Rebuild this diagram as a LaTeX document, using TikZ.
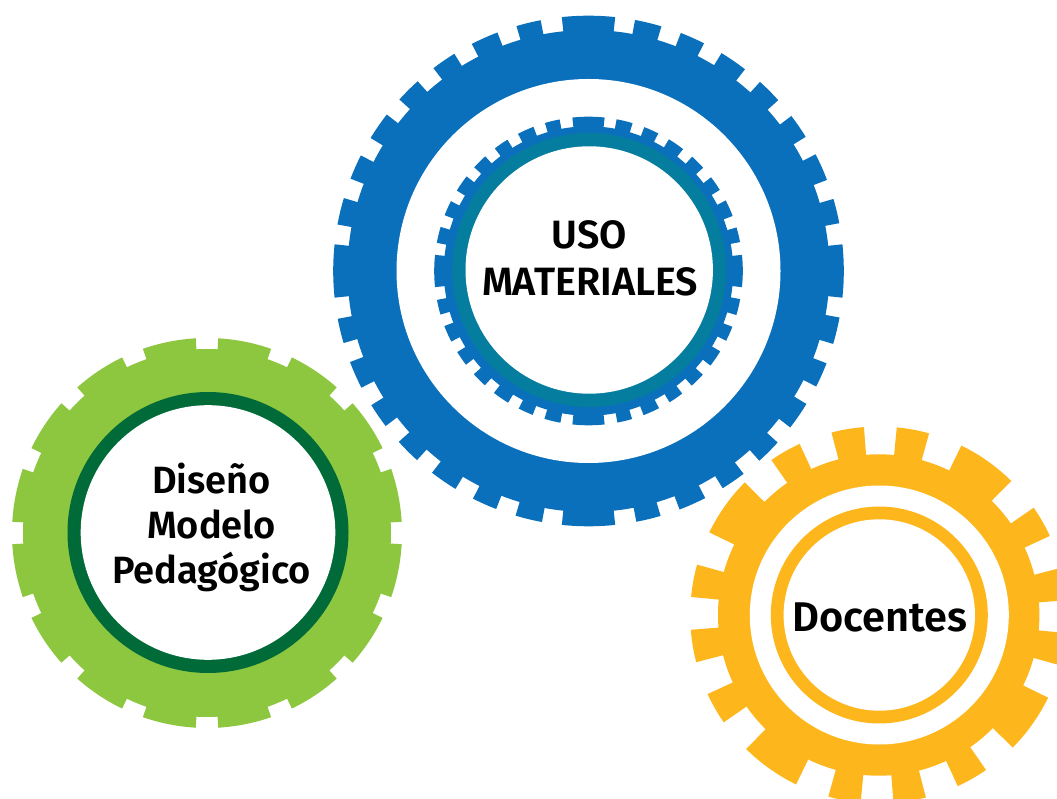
\documentclass[tikz,border=0pt]{standalone}
\usepackage{fontspec}
\setmainfont{Fira Sans SemiBold}
\definecolor{gearblue}{HTML}{0B70BC}
\definecolor{gearteal}{HTML}{057D9E}
\definecolor{geargreen}{HTML}{8DC63F}
\definecolor{geardark}{HTML}{006B38}
\definecolor{gearorange}{HTML}{FDB71C}
\tikzset{gearlabel/.style={anchor=base,inner sep=0pt,text=black}}
% #1 cx, #2 cy, #3 outer radius, #4 root radius, #5 colour, #6 rotations, #7 teeth a/b (degrees clockwise from the top)
\newcommand{\geartoothed}[7]{%
  \begin{scope}[shift={(#1pt,#2pt)}]
    \fill[#5] (0,0) circle[radius=#4pt];
    \foreach \q in {#6}{
      \foreach \a/\b in {#7}{
        \pgfmathsetmacro{\angA}{90-\a-\q}
        \pgfmathsetmacro{\angB}{90-\b-\q}
        \pgfmathsetmacro{\rIn}{#4-3}
        \fill[#5] (\angA:\rIn pt) -- (\angA:#3pt)
          arc[start angle=\angA,end angle=\angB,radius=#3pt]
          -- (\angB:\rIn pt) -- cycle;
      }
    }
  \end{scope}
}
\newcommand{\gearrim}[3]{\fill[#3] (#1) circle[radius=#2pt];}
\begin{document}
\begin{tikzpicture}[x=1pt,y=1pt]
\useasboundingbox (0,0) rectangle (1057,798);
\clip (0,0) rectangle (1057,798);
\fill[white] (0,0) rectangle (1057,798);
\coordinate (cblue) at (588.5,527);
\coordinate (cteal) at (589.2,528);
\coordinate (cgreen) at (208,265.5);
\coordinate (corange) at (879.3,183);
% blue gear
\geartoothed{588.5}{527}{255.3}{241}{gearblue}{0,90,180,270}{-6/6,10.5/16.6,21.2/26.9,31.4/37.8,42.2/48,52.6/58.3,62.8/69.1,73.6/79.2}
\gearrim{cblue}{192}{white}
\geartoothed{588.5}{527}{154.3}{144.7}{gearblue}{0,90,180,270}{-6/6,10.5/16.6,21.2/26.9,31.4/37.8,42.2/48,52.6/58.3,62.8/69.1,73.6/79.2}
\gearrim{cteal}{137}{gearteal}
\gearrim{cteal}{123.7}{white}
% green gear
\geartoothed{207}{265}{195}{184}{geargreen}{0,22.5,45,67.5,90,112.5,135,157.5,180,202.5,225,247.5,270,292.5,315,337.5}{3.3/19.2}
\gearrim{cgreen}{140.5}{geardark}
\gearrim{cgreen}{127.3}{white}
% orange gear
\geartoothed{878.7}{183}{188.5}{160.7}{gearorange}{0,90,180,270}{26/44.7,55.3/65.2,75.5/85.5,95.5/105.5}
\gearrim{corange}{129.5}{white}
\gearrim{corange}{108.5}{gearorange}
\gearrim{corange}{95.7}{white}
% labels
\node[gearlabel,font=\fontsize{39.5}{39.5}\selectfont] (uso) at (589.5,549) {USO};
\node[gearlabel,font=\fontsize{39.5}{39.5}\selectfont] (mat) at (590,502) {MATERIALES};
\node[gearlabel,font=\fontsize{38}{38}\selectfont] (dis) at (211.5,304) {Diseño};
\node[gearlabel,font=\fontsize{38}{38}\selectfont] (mod) at (211.5,259.3) {Modelo};
\node[gearlabel,font=\fontsize{38}{38}\selectfont] (ped) at (211.5,214) {Pedagógico};
\node[gearlabel,font=\fontsize{41.5}{41.5}\selectfont] (doc) at (880,167) {Docentes};
\end{tikzpicture}
\end{document}
